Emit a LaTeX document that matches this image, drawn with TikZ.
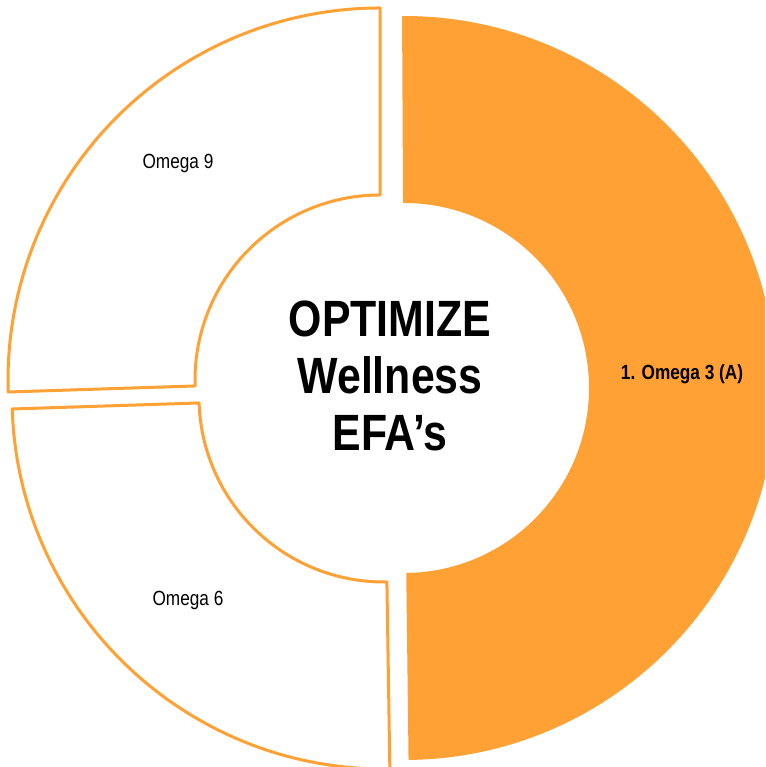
\documentclass[tikz,border=0pt]{standalone}
\usepackage{fontspec}
\setmainfont{Liberation Sans}[FakeStretch = 0.84]
\definecolor{efaorange}{RGB}{255,161,52}

\begin{document}
\begin{tikzpicture}[x = 1pt, y = 1pt, line join = round]

	% Definition

	\def\Rout{372};
	\def\Rin{185};

	\tikzset{
		ring/.style = {line width = 3pt, draw = efaorange, fill = white},
		partlabel/.style = {font = \fontsize{20.5}{24}\selectfont}
	}

	% Frame

	\useasboundingbox (0, 0) rectangle (765, 767);
	\clip (0, 0) rectangle (765, 767);

	% Ring segments

	\fill [efaorange, shift = {(404, 379)}] (-89.3 : \Rout) arc (-89.3 : 90.3 : \Rout) -- (90.3 : \Rin) arc (90.3 : -89.3 : \Rin) -- cycle;

	\draw [ring, shift = {(380, 387)}] (90 : \Rout) arc (90 : 181.85 : \Rout) -- (181.85 : \Rin) arc (181.85 : 90 : \Rin) -- cycle;

	\draw [ring, shift = {(384, 370)}] (181.85 : \Rout) arc (181.85 : 270.9 : \Rout) -- (270.9 : \Rin) arc (270.9 : 181.85 : \Rin) -- cycle;

	% Labels

	\node [partlabel, font = \fontsize{20.5}{24}\selectfont\bfseries] (omega3) at (682, 393) {1. Omega 3 (A)};
	\node [partlabel] (omega9) at (178, 604) {Omega 9};
	\node [partlabel] (omega6) at (188, 167) {Omega 6};

	% Title in the middle

	\node [align = center, font = \fontsize{51}{57}\selectfont\bfseries] (title) at (390, 391.5) {OPTIMIZE\\Wellness\\EFA’s};

\end{tikzpicture}
\end{document}
